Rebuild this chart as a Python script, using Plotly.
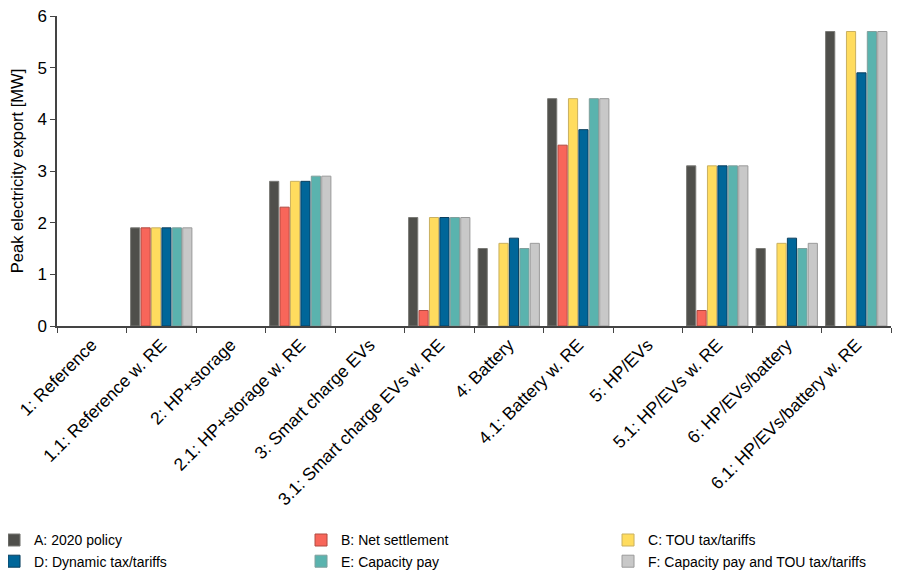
import plotly.graph_objects as go

categories = ["1: Reference", "1.1: Reference w. RE", "2: HP+storage", "2.1: HP+storage w. RE",
              "3: Smart charge EVs", "3.1: Smart charge EVs w. RE", "4: Battery", "4.1: Battery w. RE",
              "5: HP/EVs", "5.1: HP/EVs w. RE", "6: HP/EVs/battery", "6.1: HP/EVs/battery w. RE"]

series_names = ["A: 2020 policy", "B: Net settlement", "C: TOU tax/tariffs",
                "D: Dynamic tax/tariffs", "E: Capacity pay", "F: Capacity pay and TOU tax/tariffs"]

a_2020 = [None, 1.9, None, 2.8, None, 2.1, 1.5, 4.4, None, 3.1, 1.5, 5.7]
b_net = [None, 1.9, None, 2.3, None, 0.3, None, 3.5, None, 0.3, None, None]
c_tou = [None, 1.9, None, 2.8, None, 2.1, 1.6, 4.4, None, 3.1, 1.6, 5.7]
d_dyn = [None, 1.9, None, 2.8, None, 2.1, 1.7, 3.8, None, 3.1, 1.7, 4.9]
e_cap = [None, 1.9, None, 2.9, None, 2.1, 1.5, 4.4, None, 3.1, 1.5, 5.7]
f_cap_tou = [None, 1.9, None, 2.9, None, 2.1, 1.6, 4.4, None, 3.1, 1.6, 5.7]

values = [a_2020, b_net, c_tou, d_dyn, e_cap, f_cap_tou]
colors = ["#4f4f4b", "#f8665a", "#ffdc5e", "#006699", "#5ab3ae", "#c8c8c8"]
outlines = ["#7a7a76", "#b04a40", "#c9b060", "#0a3f5e", "#7f9f9c", "#9a9a9a"]
legend_ids = ["legend", "legend2", "legend3", "legend", "legend2", "legend3"]

fig = go.Figure()
for name, vals, col, oc, lg in zip(series_names, values, colors, outlines, legend_ids):
    fig.add_trace(go.Bar(x=categories, y=vals, name=name, legend=lg,
                         marker=dict(color=col, line=dict(color=oc, width=1))))

legend_style = dict(orientation="v", xref="paper", xanchor="left",
                    y=-0.64, yref="paper", yanchor="top",
                    font=dict(size=14), itemwidth=30, traceorder="normal",
                    tracegroupgap=0, bgcolor="rgba(0,0,0,0)")

fig.update_layout(
    width=914, height=570,
    paper_bgcolor="white", plot_bgcolor="white",
    margin=dict(l=49, r=31, t=8, b=252, autoexpand=False),
    barmode="group", bargap=0.1, bargroupgap=0.12,
    font=dict(family="Liberation Sans, Arial, sans-serif", color="#000"),
    legend=dict(x=-0.0755, **legend_style),
    legend2=dict(x=0.2926, **legend_style),
    legend3=dict(x=0.6607, **legend_style),
    showlegend=True,
)
fig.update_xaxes(showline=True, linecolor="#444", linewidth=1.5, automargin=False,
                 ticks="outside", tickson="boundaries", ticklen=5, tickcolor="#444",
                 tickangle=-45, ticklabeloverflow="allow",
                 tickfont=dict(size=17.5, family="Liberation Sans, Arial, sans-serif"),
                 showgrid=False)
fig.update_yaxes(range=[0, 6], dtick=1, showline=True, linecolor="#444", linewidth=1.5,
                 automargin=False, ticklabeloverflow="allow",
                 ticks="outside", ticklen=5, tickcolor="#444", showgrid=False, zeroline=False,
                 tickfont=dict(size=17),
                 title=dict(text="Peak electricity export [MW]", font=dict(size=16.5), standoff=10))

fig.write_html("out.html")
